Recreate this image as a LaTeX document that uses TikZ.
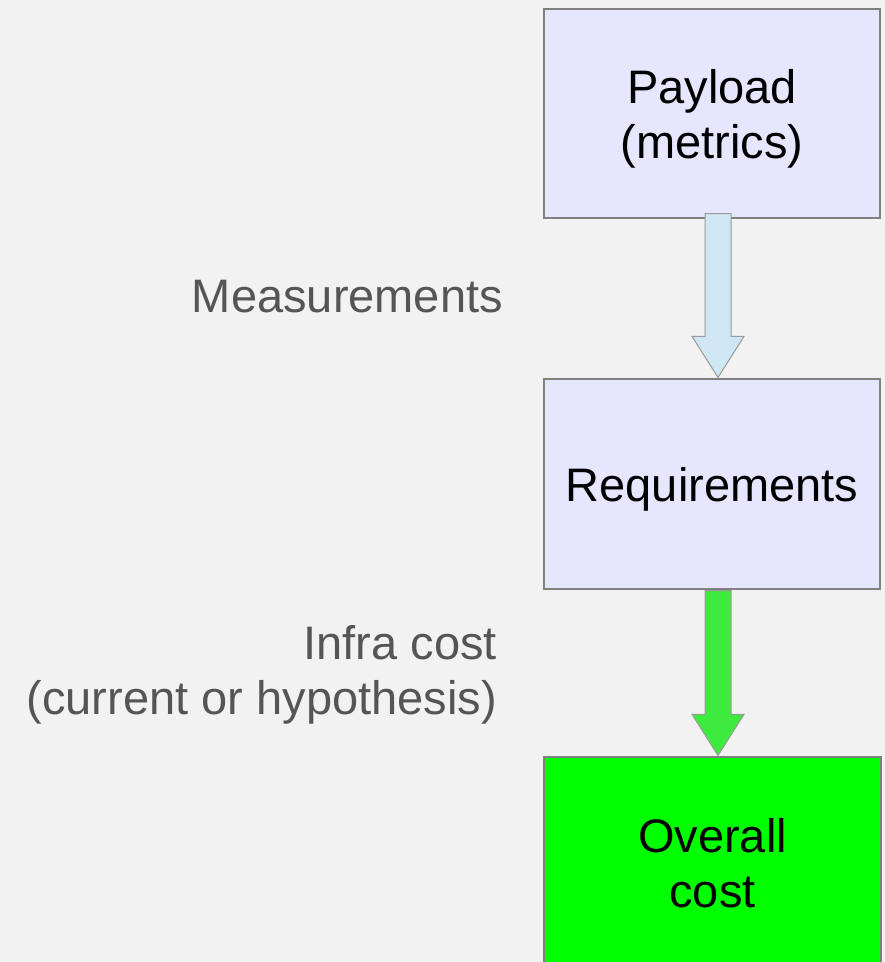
\documentclass[tikz,border=0pt]{standalone}
\usepackage{fontspec}
\setmainfont{Liberation Sans}
\usetikzlibrary{calc}
\definecolor{bg}{HTML}{F2F2F2}
\definecolor{boxfill}{HTML}{E6E6FF}
\definecolor{edge}{HTML}{808080}
\definecolor{arrblue}{HTML}{CFE7F5}
\definecolor{arrgreen}{HTML}{3DEB3D}
\definecolor{labelgray}{HTML}{555555}
\tikzset{
  box/.style={draw=edge, line width=1.2pt, fill=boxfill, minimum width=336pt, inner sep=0pt},
  boxtext/.style={inner sep=0pt, align=center, font=\fontsize{47}{55}\selectfont},
  lbl/.style={text=labelgray, inner sep=0pt, align=right, font=\fontsize{47}{55}\selectfont},
  bigarrow/.style={draw=edge!80, line width=1pt, line join=miter}
}
\begin{document}
\begin{tikzpicture}[x=1pt,y=-1pt]
\clip (0,0) rectangle (885,962);
\fill[bg] (0,0) rectangle (885,962);
\node[box, minimum height=209pt] (b1) at (712,113.5) {};
\node[boxtext] (b1t) at ($(b1.center)+(0,5.5)$) {Payload\\(metrics)};
\node[box, minimum height=210pt] (b2) at (712,484) {};
\node[boxtext] (b2t) at ($(b2.center)+(0,5)$) {Requirements};
\node[box, fill=green, minimum width=337pt, minimum height=212pt] (b3) at (712.5,863) {};
\node[boxtext] (b3t) at ($(b3.center)+(0,0)$) {Overall\\cost};
% arrows
\coordinate (t1) at ($(b1.south)+(6,-5)$);
\coordinate (h1) at ($(b2.north)+(6,-1)$);
\draw[bigarrow, fill=arrblue] ($(t1)+(-13,0)$) -- ($(t1)+(13,0)$) -- ($(h1)+(13,-41)$) -- ($(h1)+(26,-41)$) -- (h1) -- ($(h1)+(-26,-41)$) -- ($(h1)+(-13,-41)$) -- cycle;
\coordinate (t2) at ($(b2.south)+(6,1)$);
\coordinate (h2) at ($(b3.north)+(5.5,-1)$);
\draw[bigarrow, fill=arrgreen] ($(t2)+(-13,0)$) -- ($(t2)+(13,0)$) -- ($(h2)+(13,-41)$) -- ($(h2)+(26,-41)$) -- (h2) -- ($(h2)+(-26,-41)$) -- ($(h2)+(-13,-41)$) -- cycle;
% labels
\node[lbl, anchor=east] (m) at (503,297) {Measurements};
\node[lbl, anchor=east] (ic) at (497,675) {Infra cost\\(current or hypothesis)};
\end{tikzpicture}
\end{document}
